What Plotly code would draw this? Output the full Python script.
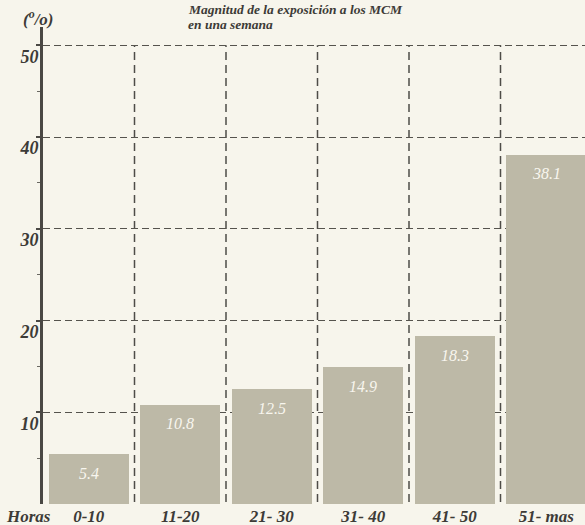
import plotly.graph_objects as go

# Weekly hours of exposure and share of respondents (%)
categorias = ["0-10", "11-20", "21- 30", "31- 40", "41- 50", "51- mas"]
porcentajes = [5.4, 10.8, 12.5, 14.9, 18.3, 38.1]
y_ticks = [10, 20, 30, 40, 50]

titulo_1 = "Magnitud de la exposición a los MCM"
titulo_2 = "en una semana"
unidad = "(<sup>o</sup>/o)"
eje_x = "Horas"

W, H = 585, 525
ML, MR, MT, MB = 43, 0, 27, 21
plot_w = W - ML - MR
plot_h = H - MT - MB
cat_px = 91.5

bg = "#f7f5ec"
bar_col = "#bdb9a7"
ink = "#3d3b37"
serif = "Liberation Serif"


def paper_y(pix):
    """Paper y coordinate for a pixel row measured from the top."""
    return (MT + plot_h - pix) / plot_h


def paper_x(pix):
    """Paper x coordinate for a pixel column measured from the left."""
    return (pix - ML) / plot_w


x_pos = list(range(len(categorias)))

fig = go.Figure()
fig.add_trace(go.Bar(
    x=x_pos,
    y=porcentajes,
    width=0.875,
    marker=dict(color=bar_col, line=dict(width=0)),
    hoverinfo="skip",
))

label_font = dict(family=serif, color=ink, style="italic", weight="bold")
annotations = []

# value labels, set just under the top of each bar
for xi, v in zip(x_pos, porcentajes):
    annotations.append(dict(
        x=xi, y=v, xref="x", yref="y", text=f"{v}",
        showarrow=False, yanchor="middle", yshift=-19,
        font=dict(family=serif, size=16, color="#f8f6ee", style="italic"),
    ))

annotations += [
    dict(text=titulo_1, xref="paper", yref="paper",
         x=paper_x(186), y=paper_y(10),
         xanchor="left", yanchor="middle", showarrow=False,
         font=dict(size=13.5, **label_font)),
    dict(text=titulo_2, xref="paper", yref="paper",
         x=paper_x(186), y=paper_y(24),
         xanchor="left", yanchor="middle", showarrow=False,
         font=dict(size=13.5, **label_font)),
    dict(text=unidad, xref="paper", yref="paper",
         x=paper_x(21), y=paper_y(18),
         xanchor="left", yanchor="middle", showarrow=False,
         font=dict(size=17, **label_font)),
    dict(text=eje_x, xref="paper", yref="paper",
         x=paper_x(4), y=paper_y(516),
         xanchor="left", yanchor="middle", showarrow=False,
         font=dict(size=17, **label_font)),
]

# dashed separators between categories, from the baseline up to 50
shapes = []
for i in range(len(categorias) - 1):
    shapes.append(dict(
        type="line", xref="x", yref="y",
        x0=i + 0.5, x1=i + 0.5, y0=-1.2, y1=max(y_ticks),
        line=dict(color="#4e4c47", width=1.5, dash="8px,5px"),
        layer="below",
    ))

fig.update_layout(
    width=W, height=H,
    margin=dict(l=ML, r=MR, t=MT, b=MB),
    paper_bgcolor=bg, plot_bgcolor=bg,
    showlegend=False,
    bargap=0,
    xaxis=dict(
        range=[-0.5, -0.5 + plot_w / cat_px],
        tickmode="array", tickvals=x_pos, ticktext=categorias,
        showgrid=False, zeroline=False, showline=False,
        ticks="", ticklabelstandoff=0,
        tickfont=dict(size=17, **label_font),
        fixedrange=True,
    ),
    yaxis=dict(
        range=[0, 52],
        tickmode="array", tickvals=y_ticks,
        showgrid=True, gridcolor="#55534d", gridwidth=1.3, griddash="7px,4px",
        zeroline=False,
        showline=True, linecolor="#4a4844", linewidth=3,
        ticks="outside", ticklen=4, tickcolor="#4a4844", tickwidth=1.5,
        minor=dict(tickmode="linear", tick0=5, dtick=10, ticks="outside",
                   ticklen=3, tickcolor="#6a6862", tickwidth=1.2, showgrid=False),
        ticklabelshift=11, ticklabelstandoff=-6,
        tickfont=dict(size=18, **label_font),
        fixedrange=True,
    ),
    annotations=annotations,
    shapes=shapes,
)

fig.write_html("out.html")
